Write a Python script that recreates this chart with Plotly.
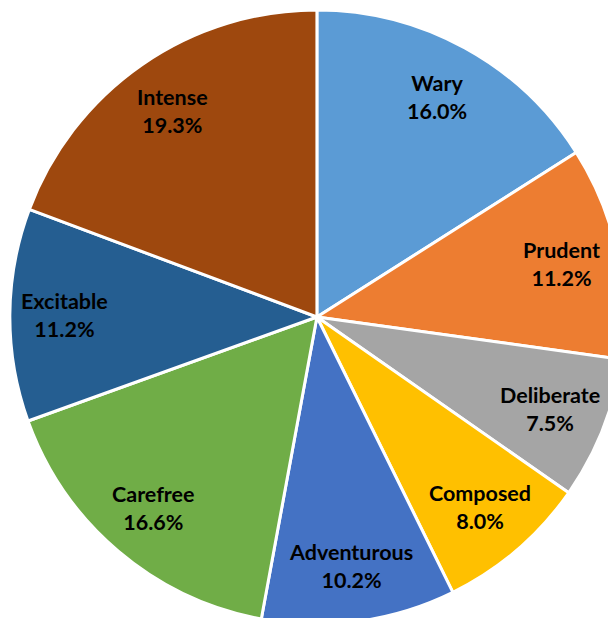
import math
import plotly.graph_objects as go

labels = ["Wary", "Prudent", "Deliberate", "Composed", "Adventurous", "Carefree", "Excitable", "Intense"]
values = [16.0, 11.2, 7.5, 8.0, 10.2, 16.6, 11.2, 19.3]
colors = ["#5B9BD5", "#ED7D31", "#A5A5A5", "#FFC000", "#4472C4", "#70AD47", "#255E91", "#9E480E"]

W, H = 616, 618
fig = go.Figure(go.Pie(
    labels=labels, values=values, sort=False, direction="clockwise", rotation=0,
    marker=dict(colors=colors, line=dict(color="white", width=3)),
    textinfo="none", hoverinfo="label+percent", showlegend=False,
    domain=dict(x=[0.003, 1], y=[0, 1]),
))

# label positions derived from the slice mid-angles
R = min(W, H) / 2
total = sum(values)
cum = 0
for lab, v in zip(labels, values):
    mid = (cum + v / 2) / total * 2 * math.pi
    cum += v
    r = 0.815 * R
    x = 0.5 + r * math.sin(mid) / W
    y = 0.5 + r * math.cos(mid) / H
    fig.add_annotation(x=x, y=y, xref="paper", yref="paper", showarrow=False,
                       xanchor="center", yanchor="middle",
                       text=f"<b>{lab}<br>{v / total * 100:.1f}%</b>",
                       font=dict(family="Lato", size=21.5, color="black"),
                       align="center")

fig.update_layout(width=W, height=H, margin=dict(l=0, r=0, t=0, b=0),
                  paper_bgcolor="white", plot_bgcolor="white")
fig.write_html("out.html")
